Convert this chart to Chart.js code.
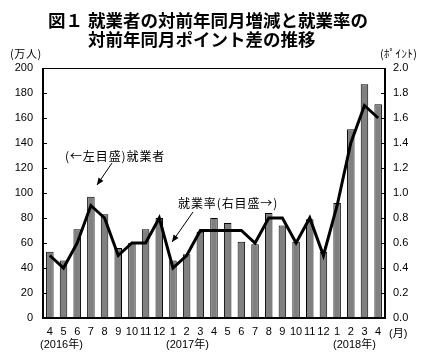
<!DOCTYPE html>
<html><head><meta charset="utf-8">
<script src="https://cdn.jsdelivr.net/npm/chart.js@4"></script>
<style>
body{margin:0;background:#fff;}
#wrap{position:relative;width:429px;height:362px;overflow:hidden;}
.t{position:absolute;white-space:nowrap;color:#000;font-family:"Noto Sans CJK JP",sans-serif;}
.n{position:absolute;white-space:nowrap;color:#000;font-family:"Liberation Sans","Noto Sans CJK JP",sans-serif;}
</style></head>
<body><div id="wrap">
<canvas id="c" width="429" height="362"></canvas>
<div class="t" style="left:48px;top:11px;font-size:17.5px;line-height:17.5px;font-weight:700;">図１</div>
<div class="t" style="left:88px;top:11px;font-size:17.5px;line-height:17.5px;font-weight:700;">就業者の対前年同月増減と就業率の</div>
<div class="t" style="left:88px;top:30px;font-size:17.5px;line-height:17.5px;font-weight:700;">対前年同月ポイント差の推移</div>
<div class="t" style="left:10px;top:47px;font-size:11px;line-height:13px;letter-spacing:0.6px;">(万人)</div>
<div class="t" style="left:380px;top:47px;font-size:11px;line-height:13px;letter-spacing:0.4px;">(ﾎﾟｲﾝﾄ)</div>
<div class="t" style="left:65px;top:149px;font-size:12px;line-height:14px;letter-spacing:0.9px;">(←左目盛)就業者</div>
<div class="t" style="left:178px;top:196px;font-size:12px;line-height:14px;letter-spacing:0.9px;">就業率(右目盛→)</div>
<div class="n" style="left:40px;top:338px;font-size:11px;line-height:13px;">(2016年)</div>
<div class="n" style="left:166px;top:338px;font-size:11px;line-height:13px;">(2017年)</div>
<div class="n" style="left:333px;top:338px;font-size:11px;line-height:13px;">(2018年)</div>
<div class="n" style="left:389px;top:327px;font-size:11px;line-height:13px;">(月)</div>
</div>
<script>
const months = ['4','5','6','7','8','9','10','11','12','1','2','3','4','5','6','7','8','9','10','11','12','1','2','3','4'];
const employed = [53,46,71,97,83,56,60,71,80,46,51,69,80,76,61,59,84,74,61,79,53,92,151,187,171];
const rateDiff = [0.5,0.4,0.6,0.9,0.8,0.5,0.6,0.6,0.8,0.4,0.5,0.7,0.7,0.7,0.7,0.6,0.8,0.8,0.6,0.8,0.5,0.9,1.4,1.7,1.6];
const leftTicks = [0,20,40,60,80,100,120,140,160,180,200];
const rightTicks = [0,0.2,0.4,0.6,0.8,1.0,1.2,1.4,1.6,1.8,2.0];

function arrow(ctx,x1,y1,x2,y2){
  ctx.save();
  ctx.strokeStyle='#000';ctx.fillStyle='#000';ctx.lineWidth=1;
  ctx.beginPath();ctx.moveTo(x1,y1);ctx.lineTo(x2,y2);ctx.stroke();
  const a=Math.atan2(y2-y1,x2-x1),L=7,W=3;
  ctx.beginPath();
  ctx.moveTo(x2,y2);
  ctx.lineTo(x2-L*Math.cos(a)+W*Math.sin(a),y2-L*Math.sin(a)-W*Math.cos(a));
  ctx.lineTo(x2-L*Math.cos(a)-W*Math.sin(a),y2-L*Math.sin(a)+W*Math.cos(a));
  ctx.closePath();ctx.fill();
  ctx.restore();
}

const framePlugin = {
  id:'frame',
  afterDraw(chart){
    const ctx=chart.ctx, a=chart.chartArea, y=chart.scales.y, y1=chart.scales.y1;
    ctx.save();
    ctx.strokeStyle='#000';
    ctx.lineWidth=1;
    ctx.beginPath();ctx.moveTo(a.left,a.top+0.5);ctx.lineTo(a.right,a.top+0.5);ctx.stroke();
    ctx.lineWidth=2;
    ctx.beginPath();
    ctx.moveTo(a.left,a.top);ctx.lineTo(a.left,a.bottom);ctx.lineTo(a.right,a.bottom);ctx.lineTo(a.right,a.top);
    ctx.stroke();
    ctx.lineWidth=1;
    leftTicks.forEach(v=>{const p=Math.round(y.getPixelForValue(v))+0.5;ctx.beginPath();ctx.moveTo(a.left,p);ctx.lineTo(a.left+4,p);ctx.stroke();});
    rightTicks.forEach(v=>{const p=Math.round(y1.getPixelForValue(v))+0.5;ctx.beginPath();ctx.moveTo(a.right-4,p);ctx.lineTo(a.right,p);ctx.stroke();});
    ctx.restore();
    arrow(ctx,112,163,97,185);
    arrow(ctx,193,212,172,242);
  }
};

new Chart(document.getElementById('c'),{
  data:{
    labels:months,
    datasets:[
      {type:'line',data:rateDiff,yAxisID:'y1',borderColor:'#000',borderWidth:3,pointRadius:0,tension:0,order:0,borderJoinStyle:'miter'},
      {type:'bar',data:employed,yAxisID:'y',backgroundColor:'#808080',borderColor:'#000',borderWidth:1,barPercentage:0.55,categoryPercentage:1,order:1}
    ]
  },
  options:{
    responsive:false,animation:false,devicePixelRatio:1,
    layout:{padding:{top:68,left:0,right:0,bottom:0}},
    plugins:{legend:{display:false},tooltip:{enabled:false}},
    scales:{
      x:{grid:{display:false,drawTicks:false},border:{display:false},
         ticks:{color:'#000',font:{family:'Liberation Sans',size:11},padding:7,maxRotation:0,autoSkip:false},
         afterFit(s){s.height=44;}},
      y:{position:'left',min:0,max:200,grid:{display:false,drawTicks:false},border:{display:false},
         ticks:{stepSize:20,color:'#000',font:{family:'Liberation Sans',size:11},padding:10},
         afterFit(s){s.width=43;}},
      y1:{position:'right',min:0,max:2,grid:{display:false,drawTicks:false},border:{display:false},
         ticks:{stepSize:0.2,color:'#000',font:{family:'Liberation Sans',size:11},padding:8,callback:v=>Number(v).toFixed(1)},
         afterFit(s){s.width=44;}}
    }
  },
  plugins:[framePlugin]
});
</script>
</body></html>
